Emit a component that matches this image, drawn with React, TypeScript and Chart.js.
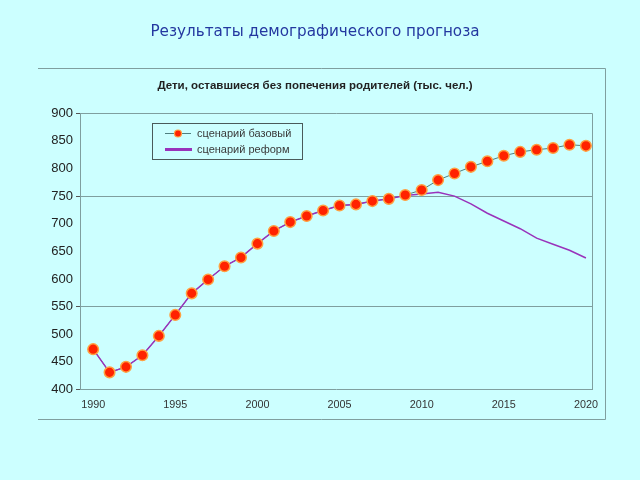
import { useEffect, useRef } from "react";
import { Chart, registerables } from "chart.js";

Chart.register(...registerables);

const years = [
  1990, 1991, 1992, 1993, 1994, 1995, 1996, 1997, 1998, 1999, 2000, 2001, 2002, 2003, 2004, 2005,
  2006, 2007, 2008, 2009, 2010, 2011, 2012, 2013, 2014, 2015, 2016, 2017, 2018, 2019, 2020,
];
const baseValues = [
  473, 431, 441, 462, 497, 535, 574, 599, 623, 639, 664, 687, 703, 714, 724, 733,
  735, 741, 745, 752, 761, 779, 791, 803, 813, 823, 830, 834, 837, 843, 841,
];
const reformValues = [
  473, 431, 441, 462, 497, 535, 574, 599, 623, 639, 664, 687, 703, 714, 724, 733,
  735, 741, 745, 751, 754, 757, 750, 736, 719, 705, 691, 674, 663, 652, 638,
];
const xTickYears = [1990, 1995, 2000, 2005, 2010, 2015, 2020];
const yGridValues = [750, 550];
const yTickMarkValues = [900, 750, 550, 400];
const seriesNames = ["сценарий базовый", "сценарий реформ"];
const pageTitle = "Результаты демографического прогноза";
const chartTitle = "Дети, оставшиеся без попечения родителей (тыс. чел.)";

const BG = "#ccffff";
const FRAME = "#7f9f9f";
const BASE_LINE = "#4f7f7f";
const REFORM = "#9933bb";
const POINT_FILL = "#ff2200";
const POINT_BORDER = "#ffa040";

const framePlugin = {
  id: "frame",
  afterDraw(chart: any) {
    const { ctx, chartArea } = chart;
    ctx.save();
    ctx.strokeStyle = FRAME;
    ctx.lineWidth = 1;
    ctx.beginPath();
    ctx.moveTo(38, 68.5);
    ctx.lineTo(605.5, 68.5);
    ctx.lineTo(605.5, 419.5);
    ctx.lineTo(38, 419.5);
    ctx.stroke();
    ctx.beginPath();
    ctx.moveTo(chartArea.left, Math.round(chartArea.top) + 0.5);
    ctx.lineTo(Math.round(chartArea.right) + 0.5, Math.round(chartArea.top) + 0.5);
    ctx.lineTo(Math.round(chartArea.right) + 0.5, chartArea.bottom);
    ctx.stroke();

    const lx = 152.5, ly = 123.5, lw = 150, lh = 36;
    ctx.strokeStyle = "#4a5a5a";
    ctx.strokeRect(lx, ly, lw, lh);
    const ds = chart.data.datasets;
    ctx.strokeStyle = BASE_LINE;
    ctx.lineWidth = 1;
    ctx.beginPath();
    ctx.moveTo(165, 133.5);
    ctx.lineTo(191, 133.5);
    ctx.stroke();
    ctx.fillStyle = POINT_FILL;
    ctx.strokeStyle = POINT_BORDER;
    ctx.lineWidth = 1.2;
    ctx.beginPath();
    ctx.arc(178, 133.5, 3.5, 0, Math.PI * 2);
    ctx.fill();
    ctx.stroke();
    ctx.strokeStyle = REFORM;
    ctx.lineWidth = 3;
    ctx.beginPath();
    ctx.moveTo(165, 149.5);
    ctx.lineTo(192, 149.5);
    ctx.stroke();
    ctx.fillStyle = "#3a3a3a";
    ctx.font = "11px 'Liberation Sans', Arial, sans-serif";
    ctx.textBaseline = "middle";
    ctx.textAlign = "left";
    ctx.fillText(ds[0].label, 197, 133.5);
    ctx.fillText(ds[1].label, 197, 149.5);
    ctx.restore();
  },
};

export default function App() {
  const ref = useRef<HTMLCanvasElement | null>(null);

  useEffect(() => {
    if (!ref.current) return;
    const basePts = years.map((x, i) => ({ x, y: baseValues[i] }));
    const reformPts = years.map((x, i) => ({ x, y: reformValues[i] }));
    const chart = new Chart(ref.current, {
      type: "line",
      data: {
        datasets: [
          {
            label: seriesNames[0],
            data: basePts,
            showLine: false,
            pointRadius: 5.3,
            pointBackgroundColor: POINT_FILL,
            pointBorderColor: POINT_BORDER,
            pointBorderWidth: 1.5,
            order: 0,
          },
          {
            label: seriesNames[1],
            data: reformPts,
            borderColor: REFORM,
            borderWidth: 1.5,
            pointRadius: 0,
            order: 1,
          },
          {
            label: seriesNames[0] + " (линия)",
            data: basePts,
            borderColor: BASE_LINE,
            borderWidth: 1,
            pointRadius: 0,
            order: 2,
          },
        ],
      },
      options: {
        animation: false,
        responsive: false,
        events: [],
        layout: { padding: { left: 38, right: 48, top: 0, bottom: 60.5 } },
        plugins: {
          legend: { display: false },
          tooltip: { enabled: false },
          title: {
            display: true,
            text: pageTitle,
            color: "#2438a0",
            font: { family: "'DejaVu Sans', sans-serif", size: 15.2, weight: "normal", lineHeight: 1.2 },
            padding: { top: 23, bottom: 29.8 },
          },
          subtitle: {
            display: true,
            text: chartTitle,
            color: "#222222",
            font: { family: "'Liberation Sans', Arial, sans-serif", size: 11.5, weight: "bold", lineHeight: 1.2 },
            padding: { top: 7.5, bottom: 20.9 },
          },
        },
        scales: {
          x: {
            type: "linear",
            min: 1989.2,
            max: 2020.37,
            afterBuildTicks: (scale: any) => {
              scale.ticks = xTickYears.map((v) => ({ value: v }));
            },
            afterFit: (scale: any) => {
              scale.height = 30;
            },
            grid: { display: false, drawTicks: false },
            border: { display: true, color: FRAME, width: 1 },
            ticks: {
              padding: 9,
              color: "#333333",
              font: { family: "'Liberation Sans', Arial, sans-serif", size: 10.8 },
              callback: (v: any) => String(v),
              maxRotation: 0,
              autoSkip: false,
            },
          },
          y: {
            type: "linear",
            min: 400,
            max: 900,
            afterFit: (scale: any) => {
              scale.width = 42;
            },
            ticks: {
              stepSize: 50,
              padding: 3,
              color: "#222222",
              font: { family: "'Liberation Sans', Arial, sans-serif", size: 13 },
            },
            grid: {
              drawTicks: true,
              tickLength: 4,
              color: (ctx: any) =>
                ctx.tick && yGridValues.includes(ctx.tick.value) ? FRAME : "rgba(0,0,0,0)",
              tickColor: (ctx: any) =>
                ctx.tick && yTickMarkValues.includes(ctx.tick.value) ? "#555555" : "rgba(0,0,0,0)",
            },
            border: { display: true, color: FRAME, width: 1 },
          },
        },
      },
      plugins: [framePlugin],
    });
    return () => chart.destroy();
  }, []);

  return (
    <div style={{ position: "fixed", left: 0, top: 0, width: 640, height: 480, background: BG }}>
      <canvas ref={ref} width={640} height={480} style={{ display: "block" }} />
    </div>
  );
}
